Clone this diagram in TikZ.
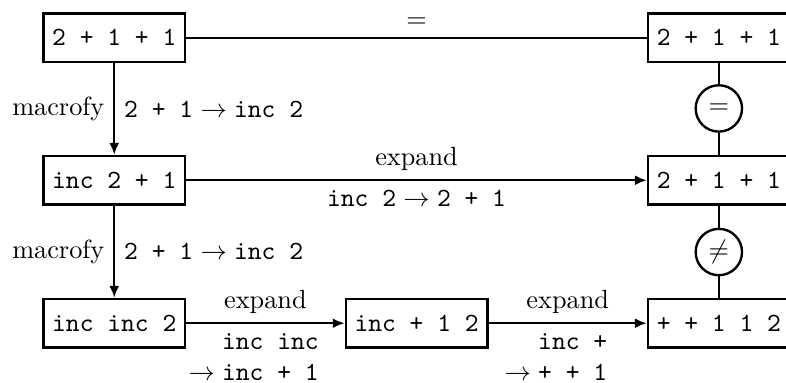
\documentclass[tikz,border=0pt]{standalone}
\usetikzlibrary{arrows.meta}
\begin{document}
\begin{tikzpicture}[>={Latex[length=4.5pt,width=3.8pt]}, line width=0.9pt,
        term/.style={draw, font=\ttfamily, minimum height=0.65cm},
        cmp/.style={draw, circle, minimum size=0.62cm, inner sep=0pt}]
        % 画布范围 (右侧方框被截断)
        \clip (0,0) rectangle (10.51,-5.11);
        
        % 左列
        \node[term] (a1) at (1.528,-0.505) {2 + 1 + 1};
        \node[term] (a2) at (1.528,-2.41)  {inc 2 + 1};
        \node[term] (a3) at (1.528,-4.322) {inc inc 2};
        
        % 中间
        \node[term] (b3) at (5.571,-4.322) {inc + 1 2};
        
        % 右列
        \node[term] (c1) at (9.612,-0.505) {2 + 1 + 1};
        \node[term] (c2) at (9.612,-2.41)  {2 + 1 + 1};
        \node[term] (c3) at (9.612,-4.322) {+ + 1 1 2};
        
        % 比较圆圈
        \node[cmp] (e1) at (9.612,-1.45) {$=$};
        \node[cmp] (e2) at (9.612,-3.37) {$\neq$};
        
        % 横向
        \draw (a1) -- node[above] {$=$} (c1);
        \draw[->] (a2) -- node[above] {expand}
            node[below] {$\texttt{inc 2}\to\texttt{2 + 1}$} (c2);
        \draw[->] (a3) -- node[above] {expand}
            node[below, align=right, xshift=-4.5pt] {\texttt{inc inc}\\$\to\texttt{inc + 1}$} (b3);
        \draw[->] (b3) -- node[above] {expand}
            node[below, align=right, xshift=-4.5pt] {\texttt{inc +}\\$\to\texttt{+ + 1}$} (c3);
        
        % 纵向 macrofy
        \draw[->] (a1) -- node[left] {macrofy}
            node[right] {$\texttt{2 + 1}\to\texttt{inc 2}$} (a2);
        \draw[->] (a2) -- node[left] {macrofy}
            node[right] {$\texttt{2 + 1}\to\texttt{inc 2}$} (a3);
        
        % 右列连线
        \draw (c1) -- (e1) -- (c2) -- (e2) -- (c3);
        
    \end{tikzpicture}
\end{document}
